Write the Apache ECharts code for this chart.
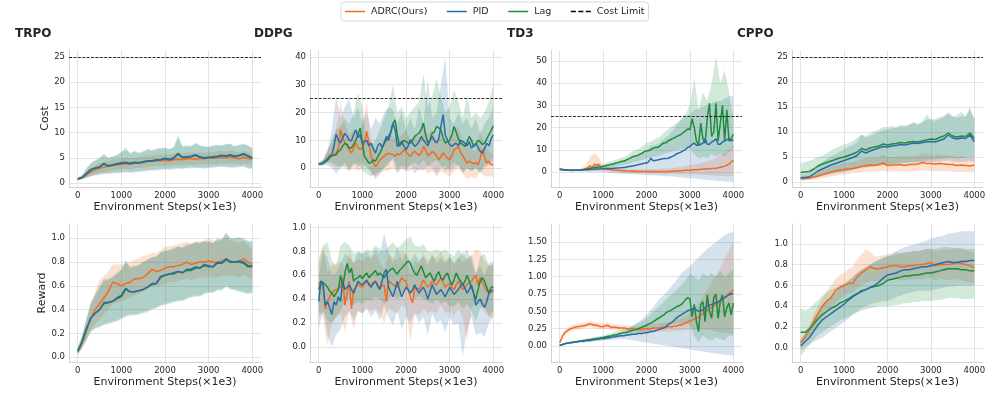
<!DOCTYPE html>
<html>
<head>
<meta charset="utf-8">
<title>Cost / Reward curves</title>
<script src="https://cdn.jsdelivr.net/npm/echarts@6.0.0/dist/echarts.min.js"></script>
<style>
  html, body { margin: 0; padding: 0; background: #fff; }
  #main { width: 996px; height: 399px; }
</style>
</head>
<body>
<div id="main"></div>
<script>
// x positions (environment steps, x1e3)
var STEPS_100 = [0,100,200,300,400,500,600,700,800,900,1000,1100,1200,1300,1400,1500,1600,1700,1800,1900,2000,
  2100,2200,2300,2400,2500,2600,2700,2800,2900,3000,3100,3200,3300,3400,3500,3600,3700,3800,3900,4000];
var STEPS_50 = [0,50,100,150,200,250,300,350,400,450,500,550,600,650,700,750,800,850,900,950,
  1000,1050,1100,1150,1200,1250,1300,1350,1400,1450,1500,1550,1600,1650,1700,1750,1800,1850,1900,1950,
  2000,2050,2100,2150,2200,2250,2300,2350,2400,2450,2500,2550,2600,2650,2700,2750,2800,2850,2900,2950,
  3000,3050,3100,3150,3200,3250,3300,3350,3400,3450,3500,3550,3600,3650,3700,3750,3800,3850,3900,3950,4000];

// tick labels
var STEP_TICKS = [0,1000,2000,3000,4000];
var COST25_TICKS = [0,5,10,15,20,25];
var DDPG_COST_TICKS = [0,10,20,30,40];
var TD3_COST_TICKS = [0,10,20,30,40,50];
var REWARD_TICKS = [0,0.2,0.4,0.6,0.8,1.0];
var TD3_REWARD_TICKS = [0,0.25,0.5,0.75,1.0,1.25,1.5];
var COST_LIMIT = 25;

// ---------- TRPO cost ----------
var TRPO_COST_ADRC = [0.8,1.0,1.6,2.2,2.6,2.9,3.1,3.3,3.5,3.6, 3.7,3.8,3.7,3.9,4.0,4.1,4.2,4.3,4.4,4.4,
  4.5,4.4,4.6,4.7,4.6,4.8,4.8,4.7,4.9,4.8, 5.0,4.9,5.0,5.1,5.0,5.2,5.0,4.8,5.1,4.9, 4.7];
var TRPO_COST_PID = [0.8,1.1,1.8,2.6,2.9,3.1,3.8,3.3,3.5,3.7, 3.9,4.0,3.8,4.0,3.9,4.1,4.4,4.3,4.5,4.6,
  4.8,4.6,4.9,5.7,5.0,5.1,5.2,5.5,5.1,4.9, 5.0,5.1,5.2,5.4,5.3,5.5,5.2,5.4,5.7,5.3, 4.9];
var TRPO_COST_LAG = [0.8,1.1,1.9,2.7,3.0,3.2,3.9,3.4,3.6,3.8, 4.0,4.1,3.9,4.1,4.0,4.2,4.4,4.4,4.6,4.6,
  4.9,4.7,5.0,5.9,5.1,5.2,5.3,5.6,5.2,5.0, 5.1,5.2,5.3,5.5,5.4,5.6,5.3,5.5,5.8,5.4, 5.0];
var TRPO_COST_ADRC_LO = [0.6,0.8,1.1,1.5,1.8,2.0,2.2,2.4,2.5,2.6, 2.7,2.8,2.7,2.9,3.0,3.0,3.1,3.2,3.3,3.3,
  3.4,3.3,3.5,3.5,3.5,3.6,3.6,3.6,3.7,3.7, 3.8,3.7,3.8,3.9,3.8,3.9,3.8,3.7,3.9,3.7, 3.6];
var TRPO_COST_ADRC_HI = [1.0,1.3,2.2,3.0,3.5,3.9,4.2,4.3,4.6,4.7, 4.8,5.0,4.8,5.0,5.1,5.2,5.4,5.5,5.6,5.6,
  5.7,5.6,5.8,5.9,5.8,6.0,6.1,5.9,6.1,6.0, 6.2,6.1,6.3,6.4,6.2,6.5,6.3,6.0,6.4,6.1, 5.9];
var TRPO_COST_PID_LO = [0.5,0.7,1.0,1.3,1.5,1.6,1.8,1.8,1.9,2.0, 2.0,2.1,2.0,2.1,2.2,2.3,2.4,2.5,2.5,2.6,
  2.7,2.6,2.7,2.8,2.7,2.9,2.9,3.0,2.9,2.8, 3.0,3.0,3.1,3.2,3.1,3.0,3.0,3.1,3.2,2.8, 2.7];
var TRPO_COST_PID_HI = [1.1,1.6,3.0,4.0,4.5,5.0,5.8,5.0,5.3,5.6, 6.2,6.5,6.0,6.4,6.0,6.3,6.8,6.5,6.8,7.0,
  7.0,6.8,7.2,9.5,7.3,7.5,7.4,8.0,7.5,7.3, 7.2,7.5,7.6,7.5,7.8,7.8,7.3,7.6,7.8,7.5, 7.0];
var TRPO_COST_LAG_LO = [0.5,0.8,1.1,1.4,1.6,1.8,1.9,2.0,2.1,2.1, 2.2,2.3,2.2,2.3,2.4,2.5,2.6,2.6,2.7,2.8,
  2.8,2.8,2.9,3.0,2.9,3.0,3.1,3.1,3.0,3.0, 3.1,3.2,3.3,3.3,3.2,3.2,3.2,3.3,3.4,3.0, 2.9];
var TRPO_COST_LAG_HI = [1.1,1.5,2.8,3.8,4.4,4.8,5.6,4.9,5.2,5.5, 6.0,7.2,5.8,6.2,5.9,6.1,6.6,6.4,6.7,6.8,
  6.9,6.7,7.0,9.0,7.2,7.3,7.2,7.8,7.4,7.2, 7.1,7.4,7.5,7.4,7.6,7.7,7.2,7.5,7.7,7.4, 6.9];

// ---------- DDPG cost (means every 50 steps) ----------
var DDPG_COST_ADRC = [1.4,1.5,1.9,2.6,3.5,4.8,4.6,4.7,5.5,7.2, 13.8,11.0,9.0,8.0,6.5,5.4,7.0,9.0,7.5,6.6,
  7.5,9.0,13.2,9.0,4.2,2.0,0.6,1.5,3.0,3.5, 4.2,5.0,5.4,5.0,4.8,4.2,5.2,4.8,5.5,6.6,
  5.8,5.0,4.2,5.5,6.0,5.2,4.5,5.5,7.8,6.5, 4.5,5.0,6.0,5.5,4.5,3.0,4.0,5.5,4.5,3.5,
  3.0,4.5,6.6,7.0,7.8,5.5,4.5,3.0,1.8,2.5, 2.0,1.5,2.0,1.2,3.5,6.6,4.0,1.8,2.5,1.2, 1.2];
var DDPG_COST_PID = [1.4,1.5,1.8,2.2,2.8,3.6,4.5,8.0,12.2,10.0, 9.0,11.0,12.5,11.5,10.0,9.8,12.0,13.8,11.0,12.0,
  9.0,9.5,10.0,8.0,9.0,7.0,5.4,8.0,9.0,7.5, 9.0,11.4,10.0,12.6,16.0,14.0,7.8,8.5,9.6,8.0,
  6.6,8.0,10.2,9.0,7.8,8.5,9.5,11.4,10.0,9.0, 8.0,10.0,11.4,10.0,9.0,10.5,15.0,19.2,12.0,10.0,
  8.5,7.8,8.5,9.0,8.0,10.0,9.5,9.0,8.0,9.5, 7.2,8.0,9.0,7.5,6.0,5.4,7.0,9.0,8.0,10.5, 12.0];
var DDPG_COST_LAG = [1.4,1.5,2.0,2.6,3.4,4.2,4.5,4.6,4.8,6.0, 6.6,8.0,9.0,8.5,7.2,7.2,8.5,10.0,12.0,14.4,
  9.0,4.2,3.0,1.8,2.0,3.0,2.5,4.0,5.4,7.0, 9.0,10.0,11.4,13.0,16.0,17.4,12.0,7.8,9.0,10.0,
  9.5,9.0,9.0,10.0,11.4,12.0,12.6,14.0,16.2,12.0, 9.0,10.0,12.6,13.0,15.0,14.5,13.8,11.0,9.0,9.5,
  10.0,12.0,15.0,13.0,10.5,9.0,8.5,7.8,9.5,11.4, 10.0,7.8,8.5,10.0,9.5,8.5,9.0,10.5,12.0,13.5, 15.2];
var DDPG_COST_ADRC_LO = [1,1,2,1,0,1,0,-1,0,-1, 0,1,-2,-3,-2,-1,-1,0,-1,0, -1,-1,0,-1,0,-2,-1,-3,-1,-2,
  -3,-1,0,-2,-4,-3,-4,-1,-3,-3, -3];
var DDPG_COST_ADRC_HI = [2,3,7,9,14,24,16,12,14,11, 16,24,10,6,8,10,12,11,10,12, 14,10,12,11,16,12,14,10,12,10,
  9,14,15,10,8,7,6,14,8,6, 5];
var DDPG_COST_PID_LO = [1,1,1,0,-2,0,2,-1,2,0, 2,0,-1,-4,-2,0,2,3,-2,0, -1,1,-2,0,-1,1,0,-2,0,1,
  -1,0,1,-2,0,-1,0,-2,0,1, 2];
var DDPG_COST_PID_HI = [2,3,6,14,26,18,22,25,18,22, 16,20,14,18,16,20,22,21,16,20, 14,18,14,22,16,32,18,20,30,40,
  18,16,20,16,18,14,18,12,16,18, 22];
var DDPG_COST_LAG_LO = [1,1,2,2,1,0,1,0,1,2, -1,-2,-3,-2,-1,0,1,4,0,1, 0,1,2,1,3,0,2,3,1,-1,
  0,2,1,-1,0,-1,0,-1,1,2, 4];
var DDPG_COST_LAG_HI = [2,3,6,10,14,15,18,16,20,27, 22,10,8,10,14,18,22,30,20,22, 18,20,22,24,34,22,26,32,26,20,
  22,28,24,18,26,18,20,18,20,24, 30];

// ---------- TD3 cost (means every 50 steps) ----------
var TD3_COST_ADRC = [1.2,1.0,0.9,0.8,0.7,0.6,0.6,0.7,0.8,0.9, 1.0,1.2,1.5,2.0,2.8,1.8,3.5,3.0,3.5,2.0,
  1.5,1.3,1.2,1.1,1.0,0.9,0.8,0.7,0.6,0.5, 0.5,0.4,0.4,0.3,0.3,0.3,0.2,0.2,0.2,0.2,
  0.2,0.2,0.2,0.2,0.2,0.2,0.2,0.2,0.2,0.2, 0.2,0.3,0.3,0.4,0.4,0.5,0.5,0.6,0.7,0.7,
  0.8,0.9,1.0,1.0,1.1,1.2,1.2,1.3,1.4,1.4, 1.5,1.6,1.7,1.9,2.1,2.3,2.5,3.0,3.5,4.5, 5.2];
var TD3_COST_PID = [1.2,1.1,1.0,0.9,0.9,0.8,0.8,0.8,0.8,0.8, 0.8,0.9,1.0,1.0,1.1,1.2,1.2,1.3,1.3,1.4,
  1.4,1.5,1.5,1.6,1.6,1.7,1.8,1.8,1.9,2.0, 2.0,2.2,2.4,2.6,2.8,3.0,3.2,3.5,3.7,3.9,
  4.0,4.6,6.2,5.0,5.2,5.4,5.6,5.8,6.0,6.0, 6.2,6.6,7.0,7.6,8.2,8.6,9.0,9.6,10.2,11.0,
  11.5,12.5,13.0,12.0,12.0,12.5,13.0,15.0,12.5,12.5, 13.5,14.0,15.0,12.5,12.5,13.5,14.0,14.5,15.0,14.0, 14.5];
var TD3_COST_LAG = [1.2,1.1,1.0,0.9,0.8,0.8,0.7,0.7,0.7,0.8, 0.8,1.0,1.2,1.4,1.6,1.8,2.0,2.1,2.2,2.3,
  2.5,2.8,3.0,3.2,3.5,3.7,4.0,4.3,4.6,4.8, 5.0,5.6,6.0,6.5,7.0,7.2,7.5,8.0,8.5,9.2,
  9.5,9.6,10.0,10.6,11.0,11.0,11.5,12.5,13.0,13.2, 14.0,14.5,15.0,15.5,16.0,16.5,17.0,17.8,18.5,19.5,
  19.0,24.0,20.0,14.0,12.0,22.0,15.0,13.0,24.0,31.0, 16.0,18.0,31.0,14.0,22.0,30.0,14.0,28.0,14.0,15.0, 17.0];
var TD3_COST_ADRC_LO = [0.8,0.6,0.4,0.3,0.3,0.4,0.3,0.0,0.2,0.5, 0.5,0.3,0.1,-0.1,-0.3,-0.4,-0.5,-0.6,-0.7,-0.8,
  -0.8,-0.9,-0.9,-1.0,-1.0,-1.0,-1.0,-1.0,-1.1,-1.1, -1.2,-1.2,-1.3,-1.4,-1.5,-1.6,-1.7,-1.8,-1.9,-2.0, -2.0];
var TD3_COST_ADRC_HI = [1.6,1.3,1.1,1.0,1.3,1.7,3.0,7.0,8.5,6.5, 3.0,2.3,2.0,1.7,1.5,1.4,1.3,1.2,1.2,1.2,
  1.2,1.3,1.3,1.4,1.5,1.6,1.8,2.0,2.3,2.6, 3.0,3.4,3.8,4.2,4.8,5.5,6.3,7.3,8.5,10.0, 12.0];
var TD3_COST_PID_LO = [0.8,0.6,0.5,0.4,0.3,0.3,0.3,0.2,0.1,0.0, -0.2,-0.3,-0.5,-0.6,-0.8,-0.9,-1.0,-1.1,-1.2,-1.3,
  -1.4,-1.5,-1.6,-1.7,-1.8,-2.0,-2.1,-2.3,-2.5,-2.7, -2.9,-3.0,-3.2,-3.4,-3.6,-3.8,-4.0,-4.1,-4.3,-4.4, -4.5];
var TD3_COST_PID_HI = [1.6,1.4,1.3,1.2,1.3,1.3,1.7,2.0,2.3,2.6, 3.0,3.3,3.7,4.2,4.6,5.0,5.8,6.7,7.6,8.8,
  9.5,12.0,12.0,13.0,14.8,16.5,18.5,21.0,23.5,25.0, 26.0,28.0,28.5,29.5,30.0,31.0,32.0,32.0,33.0,34.0, 34.5];
var TD3_COST_LAG_LO = [0.8,0.7,0.5,0.4,0.4,0.5,0.7,0.9,1.1,1.3, 1.5,1.8,2.1,2.5,2.9,3.2,3.8,4.4,4.8,5.4,
  6.0,6.4,7.0,7.4,8.2,8.8,9.3,9.8,10.2,10.8, 10.5,8.0,6.0,7.0,6.0,8.0,7.0,8.0,7.0,9.0, 11.0];
var TD3_COST_LAG_HI = [1.6,1.3,1.1,1.0,1.0,1.1,1.7,2.3,2.9,3.1, 3.5,4.2,4.9,5.5,6.3,6.8,8.2,9.6,10.2,11.6,
  13.0,13.6,15.0,15.6,17.8,19.2,20.7,22.2,23.8,26.2, 30.0,42.0,28.0,36.0,32.0,40.0,52.0,40.0,46.0,36.0, 24.0];

// ---------- CPPO cost ----------
var CPPO_COST_ADRC = [0.7,0.7,0.8,1.0,1.2,1.5,1.7,2.0,2.2,2.4, 2.5,2.6,2.7,2.9,3.1,3.3,3.4,3.3,3.5,3.8,
  3.3,3.4,3.4,3.5,3.3,3.5,3.5,3.6,3.9,3.7, 3.7,3.6,3.7,3.6,3.5,3.5,3.3,3.4,3.3,3.2, 3.4];
var CPPO_COST_PID = [0.8,0.9,1.0,1.6,2.2,2.6,3.0,3.4,3.7,4.0, 4.3,4.6,4.9,5.3,6.2,5.8,6.2,6.5,6.8,7.1,
  7.0,7.2,7.3,7.5,7.4,7.6,7.8,7.7,7.9,8.0, 8.1,8.0,8.3,8.6,9.4,8.8,8.6,8.8,8.7,9.4, 8.1];
var CPPO_COST_LAG = [1.9,2.0,2.1,2.6,3.2,3.6,3.9,4.2,4.5,4.8, 5.0,5.3,5.6,6.0,6.7,6.4,6.8,7.0,7.2,7.6,
  7.4,7.6,7.7,7.9,7.8,8.0,8.1,8.0,8.2,8.4, 8.6,8.5,8.9,9.2,9.8,9.2,9.0,9.2,9.1,9.8, 8.7];
var CPPO_COST_ADRC_LO = [0.3,0.3,0.4,0.5,0.6,0.8,0.9,1.1,1.2,1.4, 1.5,1.6,1.7,1.8,1.9,2.0,2.1,2.0,2.1,2.3,
  2.0,2.1,2.1,2.2,2.0,2.1,2.1,2.2,2.3,2.2, 2.2,2.1,2.2,2.1,2.1,2.1,2.0,2.0,2.0,1.9, 2.0];
var CPPO_COST_ADRC_HI = [1.2,1.2,1.3,1.6,1.9,2.3,2.6,3.0,3.3,3.5, 3.8,3.9,4.0,4.2,4.5,4.8,4.9,4.8,5.0,5.5,
  5.0,5.0,5.0,5.2,5.0,5.2,5.2,5.3,5.8,5.5, 5.5,5.4,5.5,5.4,5.3,5.3,5.0,5.2,5.0,4.9, 5.0];
var CPPO_COST_PID_LO = [0.3,0.4,0.5,0.8,1.0,1.2,1.4,1.6,1.7,1.9, 2.0,2.2,2.4,2.6,2.9,2.9,3.0,3.1,3.3,3.4,
  3.5,3.5,3.6,3.7,3.7,3.8,3.8,3.9,3.9,4.0, 4.0,4.0,4.1,4.2,4.3,4.1,4.0,4.0,4.1,4.2, 4.0];
var CPPO_COST_PID_HI = [1.5,1.6,1.8,2.6,3.4,4.0,4.6,5.2,5.6,6.1, 6.5,7.0,7.4,8.0,9.5,8.8,9.2,9.6,10.0,10.4,
  10.5,10.8,10.8,11.2,11.0,11.4,11.8,11.5,12.0,12.5, 12.5,12.2,12.6,13.0,14.0,13.2,12.8,13.2,13.0,14.5, 12.5];
var CPPO_COST_LAG_LO = [0.5,0.6,0.7,1.0,1.3,1.5,1.6,1.8,1.9,2.0, 2.1,2.3,2.5,2.7,2.9,3.0,3.1,3.2,3.3,3.4,
  3.5,3.6,3.7,3.8,3.9,4.0,4.1,4.1,4.2,4.3, 4.5,4.5,4.6,4.7,4.9,4.8,4.7,4.8,4.9,5.0, 5.0];
var CPPO_COST_LAG_HI = [3.8,4.0,4.2,4.6,5.0,5.2,5.8,6.3,6.8,7.2, 7.5,7.8,8.2,8.8,9.5,9.2,9.8,10.2,10.5,11.0,
  11.0,11.2,11.0,11.4,11.3,11.5,12.0,11.6,12.0,13.5, 12.5,12.6,13.0,13.2,13.6,13.0,13.4,14.0,13.2,15.0, 12.5];

// ---------- TRPO reward ----------
var TRPO_REW_ADRC = [0.05,0.12,0.22,0.33,0.40,0.45,0.50,0.55,0.63,0.62, 0.60,0.62,0.63,0.66,0.66,0.67,0.70,0.74,0.72,0.73,
  0.75,0.76,0.76,0.77,0.78,0.80,0.78,0.79,0.80,0.80, 0.81,0.80,0.79,0.81,0.82,0.81,0.80,0.80,0.83,0.80, 0.78];
var TRPO_REW_PID = [0.05,0.13,0.24,0.33,0.37,0.40,0.46,0.46,0.47,0.50, 0.52,0.58,0.55,0.55,0.56,0.57,0.59,0.62,0.62,0.68,
  0.69,0.70,0.71,0.72,0.71,0.74,0.74,0.76,0.75,0.78, 0.77,0.76,0.80,0.79,0.83,0.80,0.80,0.81,0.80,0.77, 0.77];
var TRPO_REW_LAG = [0.05,0.13,0.24,0.33,0.37,0.40,0.45,0.46,0.47,0.49, 0.51,0.57,0.55,0.55,0.56,0.57,0.59,0.61,0.62,0.67,
  0.69,0.70,0.70,0.72,0.71,0.73,0.73,0.75,0.75,0.77, 0.76,0.76,0.79,0.79,0.82,0.80,0.80,0.80,0.79,0.76, 0.76];
var TRPO_REW_ADRC_LO = [0.02,0.07,0.15,0.24,0.28,0.32,0.36,0.40,0.45,0.46, 0.47,0.48,0.50,0.52,0.53,0.55,0.57,0.60,0.59,0.60,
  0.62,0.63,0.63,0.64,0.65,0.66,0.65,0.66,0.67,0.67, 0.68,0.67,0.67,0.68,0.69,0.68,0.68,0.67,0.69,0.67, 0.66];
var TRPO_REW_ADRC_HI = [0.08,0.18,0.30,0.45,0.55,0.65,0.68,0.72,0.78,0.78, 0.78,0.78,0.80,0.82,0.83,0.85,0.86,0.88,0.88,0.90,
  0.93,0.93,0.94,0.95,0.96,0.97,0.96,0.97,0.98,0.98, 1.00,0.98,0.97,0.99,1.00,0.98,0.97,0.96,0.98,0.94, 0.90];
var TRPO_REW_PID_LO = [0.02,0.08,0.15,0.22,0.25,0.26,0.28,0.29,0.30,0.31, 0.33,0.35,0.36,0.36,0.37,0.38,0.39,0.41,0.42,0.44,
  0.45,0.46,0.47,0.48,0.48,0.50,0.51,0.52,0.52,0.54, 0.55,0.55,0.57,0.57,0.60,0.58,0.57,0.56,0.55,0.54, 0.55];
var TRPO_REW_PID_HI = [0.08,0.18,0.32,0.45,0.52,0.58,0.64,0.65,0.67,0.70, 0.73,0.82,0.75,0.76,0.77,0.80,0.82,0.84,0.84,0.88,
  0.89,0.90,0.92,0.93,0.92,0.95,0.95,0.97,0.96,0.98, 0.97,0.96,1.00,0.99,1.05,1.00,1.00,1.01,1.00,0.98, 0.98];
var TRPO_REW_LAG_LO = [0.02,0.08,0.14,0.21,0.24,0.25,0.27,0.28,0.29,0.30, 0.32,0.34,0.35,0.35,0.36,0.37,0.38,0.40,0.41,0.43,
  0.44,0.45,0.46,0.47,0.47,0.49,0.50,0.51,0.51,0.53, 0.54,0.54,0.56,0.56,0.59,0.57,0.56,0.55,0.54,0.53, 0.54];
var TRPO_REW_LAG_HI = [0.08,0.18,0.33,0.46,0.53,0.60,0.66,0.66,0.68,0.71, 0.74,0.80,0.76,0.77,0.78,0.80,0.82,0.84,0.85,0.88,
  0.90,0.90,0.91,0.93,0.92,0.94,0.95,0.96,0.96,0.97, 0.97,0.96,0.99,0.99,1.04,1.00,1.00,1.00,0.99,0.97, 0.97];

// ---------- DDPG reward (means every 50 steps) ----------
var DDPG_REW_ADRC = [0.53,0.55,0.50,0.32,0.38,0.42,0.45,0.47,0.48,0.49, 0.50,0.58,0.35,0.45,0.55,0.32,0.48,0.50,0.52,0.51,
  0.50,0.53,0.55,0.53,0.52,0.54,0.55,0.52,0.50,0.51, 0.52,0.38,0.55,0.54,0.52,0.51,0.50,0.54,0.58,0.56,
  0.55,0.48,0.42,0.37,0.50,0.49,0.48,0.52,0.56,0.53, 0.50,0.52,0.55,0.53,0.52,0.55,0.58,0.54,0.50,0.52,
  0.53,0.50,0.48,0.52,0.55,0.52,0.48,0.50,0.52,0.54, 0.55,0.58,0.60,0.52,0.58,0.54,0.50,0.47,0.45,0.46, 0.46];
var DDPG_REW_PID = [0.38,0.55,0.52,0.35,0.38,0.33,0.27,0.38,0.35,0.42, 0.38,0.55,0.48,0.50,0.52,0.48,0.45,0.50,0.55,0.53,
  0.52,0.54,0.56,0.52,0.50,0.53,0.55,0.51,0.48,0.55, 0.62,0.65,0.50,0.46,0.42,0.48,0.55,0.48,0.42,0.46,
  0.50,0.48,0.45,0.48,0.52,0.48,0.45,0.48,0.50,0.46, 0.40,0.46,0.52,0.48,0.44,0.46,0.48,0.45,0.42,0.46,
  0.50,0.47,0.44,0.46,0.48,0.51,0.53,0.49,0.45,0.48, 0.52,0.45,0.35,0.38,0.40,0.36,0.33,0.38,0.45,0.47, 0.48];
var DDPG_REW_LAG = [0.48,0.55,0.54,0.52,0.50,0.47,0.45,0.42,0.45,0.48, 0.60,0.50,0.62,0.70,0.62,0.66,0.55,0.57,0.58,0.60,
  0.57,0.60,0.62,0.58,0.60,0.62,0.64,0.60,0.62,0.60, 0.58,0.61,0.63,0.65,0.66,0.63,0.61,0.64,0.66,0.68,
  0.70,0.72,0.70,0.65,0.62,0.60,0.64,0.68,0.63,0.58, 0.60,0.62,0.58,0.55,0.60,0.63,0.58,0.56,0.60,0.62,
  0.56,0.52,0.56,0.62,0.58,0.55,0.52,0.55,0.60,0.55, 0.50,0.45,0.40,0.48,0.55,0.58,0.55,0.50,0.45,0.50, 0.50];
var DDPG_REW_ADRC_LO = [0.30,0.25,0.00,0.20,0.25,0.28,0.12,0.30,0.15,0.30, 0.28,0.32,0.30,0.32,0.28,0.20,0.32,0.30,0.28,0.35,
  0.32,0.05,0.28,0.26,0.32,0.28,0.30,0.28,0.35,0.28, 0.30,0.26,0.32,0.25,0.05,0.32,0.38,0.35,0.30,0.25, 0.25];
var DDPG_REW_ADRC_HI = [0.75,0.85,0.62,0.68,0.70,0.72,0.65,0.80,0.70,0.74, 0.72,0.76,0.74,0.78,0.72,0.65,0.78,0.75,0.72,0.80,
  0.78,0.60,0.72,0.70,0.78,0.72,0.76,0.74,0.80,0.72, 0.75,0.70,0.76,0.70,0.75,0.76,0.82,0.80,0.72,0.68, 0.68];
var DDPG_REW_PID_LO = [0.15,0.30,0.10,0.00,0.10,0.15,0.25,0.30,0.22,0.30, 0.28,0.32,0.25,0.30,0.22,0.35,0.25,0.18,0.30,0.15,
  0.25,0.20,0.28,0.20,0.25,0.10,0.28,0.20,0.22,0.12, 0.25,0.18,0.20,-0.08,0.15,0.25,0.10,0.12,0.08,0.20, 0.25];
var DDPG_REW_PID_HI = [0.60,0.80,0.75,0.60,0.62,0.70,0.78,0.75,0.70,0.80, 0.78,0.80,0.75,0.82,0.78,0.95,0.80,0.70,0.85,0.72,
  0.78,0.72,0.78,0.72,0.76,0.68,0.78,0.70,0.74,0.70, 0.76,0.70,0.74,0.80,0.72,0.78,0.62,0.68,0.60,0.70, 0.72];
var DDPG_REW_LAG_LO = [0.25,0.30,0.22,0.20,0.25,0.30,0.38,0.40,0.35,0.38, 0.36,0.40,0.38,0.42,0.40,0.36,0.40,0.44,0.40,0.45,
  0.48,0.46,0.40,0.42,0.40,0.38,0.36,0.40,0.36,0.38, 0.34,0.34,0.38,0.32,0.36,0.30,0.22,0.32,0.34,0.26, 0.30];
var DDPG_REW_LAG_HI = [0.70,0.85,0.88,0.72,0.68,0.85,0.88,0.85,0.78,0.80, 0.78,0.82,0.80,0.85,0.82,0.80,0.84,0.88,0.82,0.86,
  0.90,0.92,0.85,0.84,0.86,0.80,0.80,0.82,0.80,0.82, 0.78,0.76,0.82,0.76,0.82,0.72,0.60,0.76,0.78,0.68, 0.70];

// ---------- TD3 reward (means every 50 steps) ----------
var TD3_REW_ADRC = [0.05,0.12,0.18,0.21,0.23,0.25,0.26,0.27,0.28,0.28, 0.29,0.29,0.30,0.31,0.32,0.31,0.30,0.30,0.29,0.28,
  0.28,0.29,0.30,0.28,0.27,0.27,0.27,0.26,0.26,0.26, 0.26,0.25,0.25,0.25,0.25,0.24,0.24,0.24,0.24,0.25,
  0.25,0.25,0.25,0.26,0.26,0.26,0.26,0.27,0.27,0.27, 0.28,0.28,0.28,0.29,0.29,0.30,0.30,0.32,0.33,0.35,
  0.36,0.37,0.39,0.40,0.42,0.44,0.47,0.50,0.52,0.54, 0.56,0.58,0.60,0.62,0.65,0.67,0.70,0.73,0.76,0.78, 0.81];
var TD3_REW_PID = [0.01,0.02,0.03,0.04,0.04,0.05,0.05,0.06,0.06,0.07, 0.07,0.07,0.08,0.08,0.08,0.09,0.09,0.10,0.10,0.11,
  0.11,0.11,0.12,0.12,0.13,0.13,0.14,0.14,0.15,0.15, 0.15,0.16,0.16,0.17,0.17,0.17,0.18,0.18,0.18,0.19,
  0.19,0.20,0.21,0.21,0.22,0.23,0.24,0.25,0.26,0.28, 0.31,0.33,0.35,0.38,0.41,0.43,0.45,0.47,0.49,0.51,
  0.52,0.53,0.55,0.52,0.50,0.51,0.52,0.55,0.58,0.59, 0.60,0.61,0.63,0.64,0.66,0.68,0.70,0.72,0.74,0.75, 0.76];
var TD3_REW_LAG = [0.01,0.02,0.03,0.04,0.04,0.05,0.05,0.06,0.06,0.07, 0.07,0.08,0.08,0.09,0.09,0.10,0.10,0.11,0.11,0.12,
  0.12,0.13,0.14,0.14,0.15,0.16,0.16,0.17,0.18,0.19, 0.19,0.20,0.21,0.22,0.23,0.24,0.25,0.26,0.27,0.29,
  0.30,0.32,0.33,0.35,0.37,0.39,0.41,0.43,0.45,0.48, 0.50,0.51,0.53,0.55,0.57,0.58,0.60,0.63,0.67,0.70,
  0.68,0.42,0.60,0.35,0.21,0.60,0.64,0.35,0.74,0.50, 0.40,0.70,0.75,0.40,0.65,0.74,0.42,0.55,0.62,0.45, 0.62];
var TD3_REW_ADRC_LO = [0.02,0.14,0.19,0.22,0.24,0.25,0.26,0.28,0.26,0.25, 0.24,0.25,0.23,0.23,0.22,0.22,0.21,0.21,0.20,0.20,
  0.20,0.20,0.20,0.21,0.21,0.21,0.22,0.22,0.22,0.23, 0.24,0.24,0.24,0.24,0.23,0.22,0.21,0.20,0.19,0.18, 0.17];
var TD3_REW_ADRC_HI = [0.08,0.22,0.27,0.30,0.32,0.33,0.34,0.36,0.34,0.33, 0.32,0.34,0.31,0.31,0.30,0.30,0.29,0.29,0.28,0.29,
  0.30,0.31,0.32,0.33,0.34,0.35,0.36,0.38,0.40,0.43, 0.48,0.55,0.62,0.72,0.82,0.92,1.02,1.12,1.25,1.38, 1.50];
var TD3_REW_PID_LO = [0.00,0.02,0.03,0.04,0.05,0.05,0.06,0.06,0.07,0.07, 0.08,0.08,0.09,0.09,0.10,0.10,0.09,0.08,0.07,0.06,
  0.05,0.04,0.03,0.02,0.01,0.00,-0.01,-0.02,-0.03,-0.04, -0.05,-0.06,-0.07,-0.08,-0.09,-0.10,-0.11,-0.12,-0.13,-0.13, -0.14];
var TD3_REW_PID_HI = [0.02,0.04,0.05,0.07,0.08,0.09,0.10,0.11,0.12,0.13, 0.14,0.15,0.16,0.18,0.20,0.22,0.26,0.30,0.34,0.39,
  0.45,0.52,0.60,0.68,0.74,0.80,0.88,0.96,1.05,1.10, 1.15,1.22,1.28,1.34,1.40,1.45,1.50,1.55,1.60,1.63, 1.65];
var TD3_REW_LAG_LO = [0.00,0.02,0.03,0.04,0.05,0.05,0.06,0.07,0.07,0.08, 0.09,0.10,0.11,0.12,0.13,0.14,0.15,0.16,0.17,0.19,
  0.20,0.22,0.24,0.26,0.28,0.30,0.31,0.32,0.32,0.32, 0.30,0.15,0.05,0.15,0.10,0.08,0.12,0.10,0.08,0.15, 0.15];
var TD3_REW_LAG_HI = [0.02,0.04,0.05,0.07,0.08,0.09,0.10,0.11,0.13,0.14, 0.15,0.17,0.19,0.21,0.23,0.25,0.27,0.30,0.33,0.36,
  0.40,0.46,0.52,0.58,0.64,0.70,0.76,0.82,0.88,0.95, 1.05,1.00,0.95,1.05,1.00,1.05,1.00,1.08,1.00,1.05, 1.10];

// ---------- CPPO reward ----------
var CPPO_REW_ADRC = [0.05,0.10,0.17,0.25,0.33,0.40,0.45,0.48,0.55,0.58, 0.60,0.62,0.62,0.68,0.72,0.75,0.78,0.76,0.76,0.77,
  0.78,0.79,0.79,0.78,0.78,0.79,0.79,0.80,0.80,0.81, 0.82,0.79,0.80,0.80,0.80,0.81,0.82,0.81,0.80,0.79, 0.77];
var CPPO_REW_PID = [0.02,0.06,0.10,0.16,0.22,0.27,0.30,0.33,0.36,0.39, 0.42,0.46,0.49,0.52,0.54,0.56,0.58,0.60,0.63,0.67,
  0.70,0.71,0.72,0.74,0.75,0.75,0.76,0.77,0.78,0.78, 0.79,0.80,0.81,0.82,0.83,0.82,0.82,0.83,0.83,0.84, 0.84];
var CPPO_REW_LAG = [0.15,0.15,0.18,0.23,0.28,0.32,0.35,0.38,0.40,0.43, 0.45,0.47,0.50,0.52,0.55,0.56,0.58,0.59,0.60,0.62,
  0.65,0.66,0.67,0.68,0.69,0.69,0.70,0.70,0.71,0.72, 0.72,0.73,0.74,0.75,0.76,0.76,0.76,0.75,0.75,0.74, 0.74];
var CPPO_REW_ADRC_LO = [0.03,0.07,0.12,0.18,0.24,0.30,0.34,0.37,0.43,0.47, 0.50,0.52,0.53,0.57,0.60,0.62,0.64,0.64,0.64,0.65,
  0.65,0.66,0.66,0.65,0.65,0.66,0.66,0.66,0.66,0.67, 0.67,0.65,0.66,0.66,0.65,0.66,0.66,0.65,0.64,0.63, 0.62];
var CPPO_REW_ADRC_HI = [0.08,0.14,0.22,0.32,0.40,0.48,0.55,0.60,0.66,0.70, 0.72,0.76,0.78,0.85,0.90,0.95,0.92,0.88,0.88,0.89,
  0.90,0.91,0.92,0.91,0.91,0.92,0.93,0.93,0.94,0.95, 0.95,0.93,0.94,0.94,0.94,0.95,0.96,0.95,0.94,0.93, 0.92];
var CPPO_REW_PID_LO = [-0.02,0.01,0.03,0.06,0.08,0.10,0.13,0.16,0.19,0.22, 0.25,0.28,0.32,0.35,0.38,0.40,0.42,0.43,0.44,0.45,
  0.45,0.47,0.49,0.50,0.52,0.53,0.54,0.55,0.55,0.55, 0.55,0.56,0.57,0.58,0.59,0.59,0.60,0.60,0.60,0.60, 0.60];
var CPPO_REW_PID_HI = [0.08,0.14,0.20,0.28,0.35,0.40,0.45,0.50,0.53,0.57, 0.60,0.64,0.68,0.72,0.75,0.78,0.80,0.83,0.85,0.87,
  0.88,0.90,0.93,0.95,0.97,0.98,0.99,1.00,1.02,1.03, 1.05,1.06,1.07,1.08,1.10,1.10,1.11,1.12,1.12,1.12, 1.12];
var CPPO_REW_LAG_LO = [-0.08,-0.02,0.03,0.08,0.12,0.15,0.18,0.21,0.23,0.26, 0.28,0.30,0.32,0.34,0.36,0.37,0.38,0.39,0.40,0.40,
  0.40,0.41,0.41,0.42,0.43,0.43,0.44,0.44,0.45,0.45, 0.45,0.46,0.46,0.47,0.48,0.48,0.48,0.47,0.47,0.47, 0.48];
var CPPO_REW_LAG_HI = [0.38,0.36,0.38,0.42,0.46,0.50,0.53,0.56,0.58,0.60, 0.62,0.65,0.68,0.72,0.75,0.77,0.80,0.82,0.84,0.86,
  0.88,0.89,0.90,0.91,0.92,0.92,0.93,0.93,0.94,0.95, 0.95,0.95,0.96,0.97,0.97,0.96,0.96,0.96,0.95,0.95, 0.95];

// ---------- layout / style ----------
var FONT = 'DejaVu Sans';
var TXT = '#262626';
var GRID_LINE = '#e3e3e3';
var SPINE = '#d2d2d2';
var COLORS = { adrc: '#f26b21', pid: '#2b6ca8', lag: '#1f8b3b' };
var BANDS = { adrc: 'rgba(242,107,33,0.2)', pid: 'rgba(43,108,168,0.2)', lag: 'rgba(31,139,59,0.2)' };
var NAMES = { adrc: 'ADRC(Ours)', pid: 'PID', lag: 'Lag' };

// [left, top, width, height]
var GRID_POS = [
  [69, 50, 192, 137], [310, 50, 192, 137], [551, 50, 191, 137], [792, 50, 191, 137],
  [69, 224, 192, 138], [310, 224, 192, 138], [551, 224, 191, 138], [792, 224, 191, 138]
];

var PANELS = [
  { title: 'TRPO', tl: 15, ylab: 'Cost', gap: 18, steps: STEPS_100, ymin: -0.8, ymax: 26.4, ticks: COST25_TICKS, dec: 0, limit: true,
    adrc: [TRPO_COST_ADRC, TRPO_COST_ADRC_LO, TRPO_COST_ADRC_HI], pid: [TRPO_COST_PID, TRPO_COST_PID_LO, TRPO_COST_PID_HI], lag: [TRPO_COST_LAG, TRPO_COST_LAG_LO, TRPO_COST_LAG_HI] },
  { title: 'DDPG', tl: 254, steps: STEPS_50, ymin: -6.8, ymax: 42.5, ticks: DDPG_COST_TICKS, dec: 0, limit: true,
    adrc: [DDPG_COST_ADRC, DDPG_COST_ADRC_LO, DDPG_COST_ADRC_HI], pid: [DDPG_COST_PID, DDPG_COST_PID_LO, DDPG_COST_PID_HI], lag: [DDPG_COST_LAG, DDPG_COST_LAG_LO, DDPG_COST_LAG_HI] },
  { title: 'TD3', tl: 507, steps: STEPS_50, ymin: -6.8, ymax: 55, ticks: TD3_COST_TICKS, dec: 0, limit: true,
    adrc: [TD3_COST_ADRC, TD3_COST_ADRC_LO, TD3_COST_ADRC_HI], pid: [TD3_COST_PID, TD3_COST_PID_LO, TD3_COST_PID_HI], lag: [TD3_COST_LAG, TD3_COST_LAG_LO, TD3_COST_LAG_HI] },
  { title: 'CPPO', tl: 737, steps: STEPS_100, ymin: -1, ymax: 26.4, ticks: COST25_TICKS, dec: 0, limit: true,
    adrc: [CPPO_COST_ADRC, CPPO_COST_ADRC_LO, CPPO_COST_ADRC_HI], pid: [CPPO_COST_PID, CPPO_COST_PID_LO, CPPO_COST_PID_HI], lag: [CPPO_COST_LAG, CPPO_COST_LAG_LO, CPPO_COST_LAG_HI] },
  { ylab: 'Reward', gap: 20, steps: STEPS_100, ymin: -0.04, ymax: 1.12, ticks: REWARD_TICKS, dec: 1,
    adrc: [TRPO_REW_ADRC, TRPO_REW_ADRC_LO, TRPO_REW_ADRC_HI], pid: [TRPO_REW_PID, TRPO_REW_PID_LO, TRPO_REW_PID_HI], lag: [TRPO_REW_LAG, TRPO_REW_LAG_LO, TRPO_REW_LAG_HI] },
  { steps: STEPS_50, ymin: -0.127, ymax: 1.03, ticks: REWARD_TICKS, dec: 1,
    adrc: [DDPG_REW_ADRC, DDPG_REW_ADRC_LO, DDPG_REW_ADRC_HI], pid: [DDPG_REW_PID, DDPG_REW_PID_LO, DDPG_REW_PID_HI], lag: [DDPG_REW_LAG, DDPG_REW_LAG_LO, DDPG_REW_LAG_HI] },
  { steps: STEPS_50, ymin: -0.23, ymax: 1.76, ticks: TD3_REWARD_TICKS, dec: 2,
    adrc: [TD3_REW_ADRC, TD3_REW_ADRC_LO, TD3_REW_ADRC_HI], pid: [TD3_REW_PID, TD3_REW_PID_LO, TD3_REW_PID_HI], lag: [TD3_REW_LAG, TD3_REW_LAG_LO, TD3_REW_LAG_HI] },
  { steps: STEPS_100, ymin: -0.135, ymax: 1.19, ticks: REWARD_TICKS, dec: 1,
    adrc: [CPPO_REW_ADRC, CPPO_REW_ADRC_LO, CPPO_REW_ADRC_HI], pid: [CPPO_REW_PID, CPPO_REW_PID_LO, CPPO_REW_PID_HI], lag: [CPPO_REW_LAG, CPPO_REW_LAG_LO, CPPO_REW_LAG_HI] }
];

function pairs(xs, ys) {
  return xs.map(function (x, i) { return [x, ys[i]]; });
}

// filled band between lo and hi, drawn as one polygon through the axis scales
function bandSeries(i, xs, lo, hi, fill) {
  return {
    type: 'custom', xAxisIndex: i, yAxisIndex: i, silent: true, z: 1, clip: true,
    data: xs.map(function (x, j) { return [x, lo[j], hi[j]]; }),
    encode: { x: 0, y: [1, 2] },
    renderItem: function (params, api) {
      if (params.dataIndex !== 0) return null;
      var pts = [], j;
      for (j = 0; j < xs.length; j++) pts.push(api.coord([xs[j], hi[j]]));
      for (j = xs.length - 1; j >= 0; j--) pts.push(api.coord([xs[j], lo[j]]));
      return { type: 'polygon', shape: { points: pts }, style: { fill: fill, stroke: null } };
    }
  };
}

var grids = [], xAxes = [], yAxes = [], series = [], titles = [];

PANELS.forEach(function (p, i) {
  var g = GRID_POS[i];
  grids.push({ left: g[0], top: g[1], width: g[2], height: g[3], containLabel: false });

  xAxes.push({
    gridIndex: i, type: 'value', min: -200, max: 4200,
    name: 'Environment Steps(×1e3)', nameLocation: 'middle', nameGap: 15,
    nameTextStyle: { fontFamily: FONT, fontSize: 11, color: TXT },
    axisLine: { show: true, onZero: false, lineStyle: { color: SPINE, width: 1 } },
    axisTick: { show: false, customValues: STEP_TICKS },
    axisLabel: { customValues: STEP_TICKS, margin: 4, fontFamily: FONT, fontSize: 8.5, color: TXT,
      formatter: function (v) { return String(v); } },
    splitLine: { show: true, lineStyle: { color: GRID_LINE, width: 1 } }
  });

  yAxes.push({
    gridIndex: i, type: 'value', min: p.ymin, max: p.ymax,
    name: p.ylab || '', nameLocation: 'middle', nameGap: p.gap || 18, nameRotate: 90,
    nameTextStyle: { fontFamily: FONT, fontSize: 11, color: TXT },
    axisLine: { show: true, onZero: false, lineStyle: { color: SPINE, width: 1 } },
    axisTick: { show: false, customValues: p.ticks },
    axisLabel: {
      customValues: p.ticks, margin: 4, fontFamily: FONT, fontSize: 8.5, color: TXT,
      formatter: (function (d) { return function (v) { return Number(v).toFixed(d); }; })(p.dec)
    },
    splitLine: { show: true, lineStyle: { color: GRID_LINE, width: 1 } }
  });

  if (p.title) {
    titles.push({
      text: p.title, left: p.tl, top: 28, padding: 0,
      textStyle: { fontFamily: FONT, fontSize: 12, fontWeight: 'bold', color: TXT }
    });
  }

  ['adrc', 'pid', 'lag'].forEach(function (k) {
    series.push(bandSeries(i, STEPS_100, p[k][1], p[k][2], BANDS[k]));
  });

  // mean curves
  ['adrc', 'lag', 'pid'].forEach(function (k) {
    series.push({
      type: 'line', xAxisIndex: i, yAxisIndex: i, name: NAMES[k],
      data: pairs(p.steps, p[k][0]), symbol: 'none', showSymbol: false,
      lineStyle: { color: COLORS[k], width: 1.5 }, itemStyle: { color: COLORS[k] }, z: 3
    });
  });

  if (p.limit) {
    series.push({
      type: 'line', xAxisIndex: i, yAxisIndex: i, name: 'Cost Limit', data: [],
      symbol: 'none', lineStyle: { color: '#000', width: 1.5 }, itemStyle: { color: '#000' },
      markLine: {
        silent: true, symbol: ['none', 'none'], label: { show: false },
        lineStyle: { color: '#000', width: 0.8, type: [3, 1.4] },
        data: [{ yAxis: COST_LIMIT }]
      },
      z: 4
    });
  }
});

var LINE_ICON = 'path://M0,0H20V1.5H0Z';
var DASH_ICON = 'path://M0,0H5V1.5H0Z M7.5,0H12.5V1.5H7.5Z M15,0H20V1.5H15Z';

var chart = echarts.init(document.getElementById('main'), null, { renderer: 'canvas' });
chart.setOption({
  animation: false,
  backgroundColor: '#fff',
  title: titles,
  legend: {
    data: [
      { name: 'ADRC(Ours)', icon: LINE_ICON },
      { name: 'PID', icon: LINE_ICON },
      { name: 'Lag', icon: LINE_ICON },
      { name: 'Cost Limit', icon: DASH_ICON }
    ],
    left: 341, top: 2, padding: [4, 4], itemGap: 19.5, itemWidth: 22, itemHeight: 1.5,
    borderColor: '#d9d9d9', borderWidth: 1, borderRadius: 3, selectedMode: false,
    textStyle: { fontFamily: FONT, fontSize: 9.5, color: TXT, lineHeight: 11 }
  },
  grid: grids,
  xAxis: xAxes,
  yAxis: yAxes,
  series: series
});
</script>
</body>
</html>
